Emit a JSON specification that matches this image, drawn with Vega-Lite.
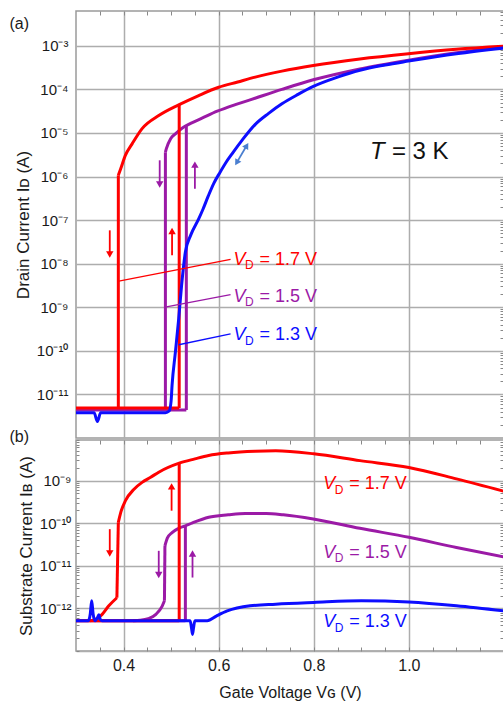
{
  "$schema": "https://vega.github.io/schema/vega-lite/v6.json",
  "padding": {"left": 8, "top": 9, "right": 0, "bottom": 3},
  "spacing": 2,
  "bounds": "flush",
  "config": {
    "font": "Liberation Sans",
    "view": {"stroke": "#9a9a9a", "strokeWidth": 1.5},
    "axis": {"gridColor": "#adadad", "gridWidth": 1.5, "tickColor": "#888888", "tickWidth": 1, "labelColor": "#1a1a1a", "titleColor": "#1a1a1a", "labelFont": "Liberation Sans", "titleFont": "Liberation Sans", "titleFontWeight": "normal", "domain": false}
  },
  "datasets": {
    "curves": [
      {"p":"a","vd":"1.5","br":"f","i":0,"vg":0.3,"cur":4.37e-12},
      {"p":"a","vd":"1.5","br":"f","i":1,"vg":0.532,"cur":4.37e-12},
      {"p":"a","vd":"1.5","br":"j1","i":0,"vg":0.532,"cur":4.37e-12},
      {"p":"a","vd":"1.5","br":"j1","i":1,"vg":0.532,"cur":1.48e-5},
      {"p":"a","vd":"1.5","br":"j2","i":0,"vg":0.488,"cur":4.37e-12},
      {"p":"a","vd":"1.5","br":"j2","i":1,"vg":0.488,"cur":3.63e-6},
      {"p":"a","vd":"1.5","br":"u","i":0,"vg":0.488,"cur":3.63e-6},
      {"p":"a","vd":"1.5","br":"u","i":1,"vg":0.49,"cur":4.37e-6},
      {"p":"a","vd":"1.5","br":"u","i":2,"vg":0.499,"cur":7.41e-6},
      {"p":"a","vd":"1.5","br":"u","i":3,"vg":0.509,"cur":9.55e-6},
      {"p":"a","vd":"1.5","br":"u","i":4,"vg":0.523,"cur":1.29e-5},
      {"p":"a","vd":"1.5","br":"u","i":5,"vg":0.532,"cur":1.48e-5},
      {"p":"a","vd":"1.5","br":"u","i":6,"vg":0.541,"cur":1.66e-5},
      {"p":"a","vd":"1.5","br":"u","i":7,"vg":0.565,"cur":2.19e-5},
      {"p":"a","vd":"1.5","br":"u","i":8,"vg":0.597,"cur":3.16e-5},
      {"p":"a","vd":"1.5","br":"u","i":9,"vg":0.635,"cur":4.47e-5},
      {"p":"a","vd":"1.5","br":"u","i":10,"vg":0.666,"cur":5.75e-5},
      {"p":"a","vd":"1.5","br":"u","i":11,"vg":0.733,"cur":1.0e-4},
      {"p":"a","vd":"1.5","br":"u","i":12,"vg":0.799,"cur":1.66e-4},
      {"p":"a","vd":"1.5","br":"u","i":13,"vg":0.897,"cur":2.95e-4},
      {"p":"a","vd":"1.5","br":"u","i":14,"vg":0.999,"cur":4.68e-4},
      {"p":"a","vd":"1.5","br":"u","i":15,"vg":1.1,"cur":6.92e-4},
      {"p":"a","vd":"1.5","br":"u","i":16,"vg":1.2,"cur":9.33e-4},
      {"p":"a","vd":"1.7","br":"f","i":0,"vg":0.3,"cur":4.9e-12},
      {"p":"a","vd":"1.7","br":"f","i":1,"vg":0.517,"cur":4.9e-12},
      {"p":"a","vd":"1.7","br":"j1","i":0,"vg":0.517,"cur":4.9e-12},
      {"p":"a","vd":"1.7","br":"j1","i":1,"vg":0.517,"cur":4.47e-5},
      {"p":"a","vd":"1.7","br":"j2","i":0,"vg":0.389,"cur":4.9e-12},
      {"p":"a","vd":"1.7","br":"j2","i":1,"vg":0.389,"cur":1.07e-6},
      {"p":"a","vd":"1.7","br":"u","i":0,"vg":0.389,"cur":1.07e-6},
      {"p":"a","vd":"1.7","br":"u","i":1,"vg":0.394,"cur":1.51e-6},
      {"p":"a","vd":"1.7","br":"u","i":2,"vg":0.404,"cur":3.09e-6},
      {"p":"a","vd":"1.7","br":"u","i":3,"vg":0.418,"cur":5.62e-6},
      {"p":"a","vd":"1.7","br":"u","i":4,"vg":0.439,"cur":1.26e-5},
      {"p":"a","vd":"1.7","br":"u","i":5,"vg":0.474,"cur":2.51e-5},
      {"p":"a","vd":"1.7","br":"u","i":6,"vg":0.517,"cur":4.47e-5},
      {"p":"a","vd":"1.7","br":"u","i":7,"vg":0.558,"cur":7.24e-5},
      {"p":"a","vd":"1.7","br":"u","i":8,"vg":0.6,"cur":1.12e-4},
      {"p":"a","vd":"1.7","br":"u","i":9,"vg":0.64,"cur":1.48e-4},
      {"p":"a","vd":"1.7","br":"u","i":10,"vg":0.677,"cur":1.91e-4},
      {"p":"a","vd":"1.7","br":"u","i":11,"vg":0.733,"cur":2.63e-4},
      {"p":"a","vd":"1.7","br":"u","i":12,"vg":0.799,"cur":3.55e-4},
      {"p":"a","vd":"1.7","br":"u","i":13,"vg":0.897,"cur":5.01e-4},
      {"p":"a","vd":"1.7","br":"u","i":14,"vg":0.999,"cur":6.61e-4},
      {"p":"a","vd":"1.7","br":"u","i":15,"vg":1.1,"cur":8.32e-4},
      {"p":"a","vd":"1.7","br":"u","i":16,"vg":1.2,"cur":9.77e-4},
      {"p":"a","vd":"1.3","br":"u","i":0,"vg":0.3,"cur":3.8e-12},
      {"p":"a","vd":"1.3","br":"u","i":1,"vg":0.338,"cur":3.8e-12},
      {"p":"a","vd":"1.3","br":"u","i":2,"vg":0.345,"cur":2.4e-12},
      {"p":"a","vd":"1.3","br":"u","i":3,"vg":0.352,"cur":3.8e-12},
      {"p":"a","vd":"1.3","br":"u","i":4,"vg":0.488,"cur":3.8e-12},
      {"p":"a","vd":"1.3","br":"u","i":5,"vg":0.496,"cur":4.17e-12},
      {"p":"a","vd":"1.3","br":"u","i":6,"vg":0.5,"cur":7.08e-12},
      {"p":"a","vd":"1.3","br":"u","i":7,"vg":0.502,"cur":1.62e-11},
      {"p":"a","vd":"1.3","br":"u","i":8,"vg":0.509,"cur":9.33e-11},
      {"p":"a","vd":"1.3","br":"u","i":9,"vg":0.516,"cur":5.5e-10},
      {"p":"a","vd":"1.3","br":"u","i":10,"vg":0.522,"cur":3.16e-9},
      {"p":"a","vd":"1.3","br":"u","i":11,"vg":0.53,"cur":1.86e-8},
      {"p":"a","vd":"1.3","br":"u","i":12,"vg":0.541,"cur":4.47e-8},
      {"p":"a","vd":"1.3","br":"u","i":13,"vg":0.558,"cur":1.07e-7},
      {"p":"a","vd":"1.3","br":"u","i":14,"vg":0.567,"cur":1.78e-7},
      {"p":"a","vd":"1.3","br":"u","i":15,"vg":0.578,"cur":3.55e-7},
      {"p":"a","vd":"1.3","br":"u","i":16,"vg":0.59,"cur":7.08e-7},
      {"p":"a","vd":"1.3","br":"u","i":17,"vg":0.603,"cur":1.26e-6},
      {"p":"a","vd":"1.3","br":"u","i":18,"vg":0.614,"cur":2.0e-6},
      {"p":"a","vd":"1.3","br":"u","i":19,"vg":0.63,"cur":3.55e-6},
      {"p":"a","vd":"1.3","br":"u","i":20,"vg":0.649,"cur":6.76e-6},
      {"p":"a","vd":"1.3","br":"u","i":21,"vg":0.677,"cur":1.58e-5},
      {"p":"a","vd":"1.3","br":"u","i":22,"vg":0.705,"cur":2.82e-5},
      {"p":"a","vd":"1.3","br":"u","i":23,"vg":0.733,"cur":4.68e-5},
      {"p":"a","vd":"1.3","br":"u","i":24,"vg":0.766,"cur":7.59e-5},
      {"p":"a","vd":"1.3","br":"u","i":25,"vg":0.799,"cur":1.17e-4},
      {"p":"a","vd":"1.3","br":"u","i":26,"vg":0.85,"cur":1.91e-4},
      {"p":"a","vd":"1.3","br":"u","i":27,"vg":0.897,"cur":2.75e-4},
      {"p":"a","vd":"1.3","br":"u","i":28,"vg":0.95,"cur":3.63e-4},
      {"p":"a","vd":"1.3","br":"u","i":29,"vg":0.999,"cur":4.47e-4},
      {"p":"a","vd":"1.3","br":"u","i":30,"vg":1.1,"cur":6.61e-4},
      {"p":"a","vd":"1.3","br":"u","i":31,"vg":1.2,"cur":8.91e-4},

      {"p":"b","vd":"1.5","br":"f","i":0,"vg":0.3,"cur":5.13e-13},
      {"p":"b","vd":"1.5","br":"f","i":1,"vg":0.53,"cur":5.13e-13},
      {"p":"b","vd":"1.5","br":"j1","i":0,"vg":0.53,"cur":5.13e-13},
      {"p":"b","vd":"1.5","br":"j1","i":1,"vg":0.53,"cur":8.71e-11},
      {"p":"b","vd":"1.5","br":"t","i":0,"vg":0.42,"cur":5.13e-13},
      {"p":"b","vd":"1.5","br":"t","i":1,"vg":0.435,"cur":5.25e-13},
      {"p":"b","vd":"1.5","br":"t","i":2,"vg":0.452,"cur":5.75e-13},
      {"p":"b","vd":"1.5","br":"t","i":3,"vg":0.468,"cur":7.24e-13},
      {"p":"b","vd":"1.5","br":"t","i":4,"vg":0.481,"cur":1.12e-12},
      {"p":"b","vd":"1.5","br":"t","i":5,"vg":0.486,"cur":1.51e-12},
      {"p":"b","vd":"1.5","br":"j2","i":0,"vg":0.486,"cur":1.51e-12},
      {"p":"b","vd":"1.5","br":"j2","i":1,"vg":0.487,"cur":2.95e-11},
      {"p":"b","vd":"1.5","br":"u","i":0,"vg":0.487,"cur":2.95e-11},
      {"p":"b","vd":"1.5","br":"u","i":1,"vg":0.492,"cur":4.47e-11},
      {"p":"b","vd":"1.5","br":"u","i":2,"vg":0.502,"cur":6.03e-11},
      {"p":"b","vd":"1.5","br":"u","i":3,"vg":0.516,"cur":7.59e-11},
      {"p":"b","vd":"1.5","br":"u","i":4,"vg":0.53,"cur":8.71e-11},
      {"p":"b","vd":"1.5","br":"u","i":5,"vg":0.545,"cur":1.02e-10},
      {"p":"b","vd":"1.5","br":"u","i":6,"vg":0.579,"cur":1.38e-10},
      {"p":"b","vd":"1.5","br":"u","i":7,"vg":0.62,"cur":1.58e-10},
      {"p":"b","vd":"1.5","br":"u","i":8,"vg":0.656,"cur":1.7e-10},
      {"p":"b","vd":"1.5","br":"u","i":9,"vg":0.7,"cur":1.7e-10},
      {"p":"b","vd":"1.5","br":"u","i":10,"vg":0.736,"cur":1.58e-10},
      {"p":"b","vd":"1.5","br":"u","i":11,"vg":0.799,"cur":1.26e-10},
      {"p":"b","vd":"1.5","br":"u","i":12,"vg":0.897,"cur":7.59e-11},
      {"p":"b","vd":"1.5","br":"u","i":13,"vg":1.0,"cur":4.68e-11},
      {"p":"b","vd":"1.5","br":"u","i":14,"vg":1.1,"cur":2.69e-11},
      {"p":"b","vd":"1.5","br":"u","i":15,"vg":1.2,"cur":1.62e-11},
      {"p":"b","vd":"1.7","br":"f","i":0,"vg":0.3,"cur":5.13e-13},
      {"p":"b","vd":"1.7","br":"f","i":1,"vg":0.517,"cur":5.13e-13},
      {"p":"b","vd":"1.7","br":"j1","i":0,"vg":0.517,"cur":5.13e-13},
      {"p":"b","vd":"1.7","br":"j1","i":1,"vg":0.517,"cur":2.57e-9},
      {"p":"b","vd":"1.7","br":"t","i":0,"vg":0.33,"cur":5.13e-13},
      {"p":"b","vd":"1.7","br":"t","i":1,"vg":0.341,"cur":5.5e-13},
      {"p":"b","vd":"1.7","br":"t","i":2,"vg":0.355,"cur":7.24e-13},
      {"p":"b","vd":"1.7","br":"t","i":3,"vg":0.369,"cur":1.15e-12},
      {"p":"b","vd":"1.7","br":"t","i":4,"vg":0.386,"cur":1.78e-12},
      {"p":"b","vd":"1.7","br":"j2","i":0,"vg":0.386,"cur":1.78e-12},
      {"p":"b","vd":"1.7","br":"j2","i":1,"vg":0.389,"cur":1.05e-10},
      {"p":"b","vd":"1.7","br":"u","i":0,"vg":0.389,"cur":1.05e-10},
      {"p":"b","vd":"1.7","br":"u","i":1,"vg":0.394,"cur":1.78e-10},
      {"p":"b","vd":"1.7","br":"u","i":2,"vg":0.404,"cur":3.39e-10},
      {"p":"b","vd":"1.7","br":"u","i":3,"vg":0.422,"cur":6.31e-10},
      {"p":"b","vd":"1.7","br":"u","i":4,"vg":0.439,"cur":9.12e-10},
      {"p":"b","vd":"1.7","br":"u","i":5,"vg":0.457,"cur":1.2e-9},
      {"p":"b","vd":"1.7","br":"u","i":6,"vg":0.474,"cur":1.58e-9},
      {"p":"b","vd":"1.7","br":"u","i":7,"vg":0.517,"cur":2.57e-9},
      {"p":"b","vd":"1.7","br":"u","i":8,"vg":0.55,"cur":3.24e-9},
      {"p":"b","vd":"1.7","br":"u","i":9,"vg":0.579,"cur":3.89e-9},
      {"p":"b","vd":"1.7","br":"u","i":10,"vg":0.62,"cur":4.47e-9},
      {"p":"b","vd":"1.7","br":"u","i":11,"vg":0.677,"cur":4.9e-9},
      {"p":"b","vd":"1.7","br":"u","i":12,"vg":0.72,"cur":5.01e-9},
      {"p":"b","vd":"1.7","br":"u","i":13,"vg":0.8,"cur":4.27e-9},
      {"p":"b","vd":"1.7","br":"u","i":14,"vg":0.897,"cur":2.95e-9},
      {"p":"b","vd":"1.7","br":"u","i":15,"vg":1.0,"cur":2.04e-9},
      {"p":"b","vd":"1.7","br":"u","i":16,"vg":1.1,"cur":1.1e-9},
      {"p":"b","vd":"1.7","br":"u","i":17,"vg":1.2,"cur":5.62e-10},
      {"p":"b","vd":"1.3","br":"u","i":0,"vg":0.3,"cur":5.13e-13},
      {"p":"b","vd":"1.3","br":"u","i":1,"vg":0.326,"cur":5.13e-13},
      {"p":"b","vd":"1.3","br":"u","i":2,"vg":0.33,"cur":7.4e-13},
      {"p":"b","vd":"1.3","br":"u","i":3,"vg":0.333,"cur":1.51e-12},
      {"p":"b","vd":"1.3","br":"u","i":4,"vg":0.336,"cur":7.4e-13},
      {"p":"b","vd":"1.3","br":"u","i":5,"vg":0.34,"cur":5.13e-13},
      {"p":"b","vd":"1.3","br":"u","i":6,"vg":0.345,"cur":6.0e-13},
      {"p":"b","vd":"1.3","br":"u","i":7,"vg":0.348,"cur":7.1e-13},
      {"p":"b","vd":"1.3","br":"u","i":8,"vg":0.351,"cur":5.5e-13},
      {"p":"b","vd":"1.3","br":"u","i":9,"vg":0.355,"cur":5.13e-13},
      {"p":"b","vd":"1.3","br":"u","i":10,"vg":0.54,"cur":5.13e-13},
      {"p":"b","vd":"1.3","br":"u","i":11,"vg":0.543,"cur":3.4e-13},
      {"p":"b","vd":"1.3","br":"u","i":12,"vg":0.545,"cur":2.45e-13},
      {"p":"b","vd":"1.3","br":"u","i":13,"vg":0.547,"cur":3.4e-13},
      {"p":"b","vd":"1.3","br":"u","i":14,"vg":0.55,"cur":5.13e-13},
      {"p":"b","vd":"1.3","br":"u","i":15,"vg":0.576,"cur":5.13e-13},
      {"p":"b","vd":"1.3","br":"u","i":16,"vg":0.595,"cur":6.6e-13},
      {"p":"b","vd":"1.3","br":"u","i":17,"vg":0.618,"cur":8.71e-13},
      {"p":"b","vd":"1.3","br":"u","i":18,"vg":0.666,"cur":1.15e-12},
      {"p":"b","vd":"1.3","br":"u","i":19,"vg":0.72,"cur":1.26e-12},
      {"p":"b","vd":"1.3","br":"u","i":20,"vg":0.8,"cur":1.38e-12},
      {"p":"b","vd":"1.3","br":"u","i":21,"vg":0.9,"cur":1.51e-12},
      {"p":"b","vd":"1.3","br":"u","i":22,"vg":1.0,"cur":1.41e-12},
      {"p":"b","vd":"1.3","br":"u","i":23,"vg":1.1,"cur":1.15e-12},
      {"p":"b","vd":"1.3","br":"u","i":24,"vg":1.2,"cur":8.71e-13}
    ],
    "leaders": [
      {"p":"a","vd":"1.7","vg":0.39,"cur":3.98e-9,"vg2":0.625,"cur2":1.26e-8},
      {"p":"a","vd":"1.5","vg":0.49,"cur":1.02e-9,"vg2":0.625,"cur2":1.95e-9},
      {"p":"a","vd":"1.3","vg":0.516,"cur":1.38e-10,"vg2":0.625,"cur2":2.45e-10}
    ],
    "labels": [
      {"p":"a","vd":"1.7","vg":0.631,"cur":1.23e-8,"rest":"= 1.7 V"},
      {"p":"a","vd":"1.5","vg":0.631,"cur":1.74e-9,"rest":"= 1.5 V"},
      {"p":"a","vd":"1.3","vg":0.631,"cur":2.29e-10,"rest":"= 1.3 V"},
      {"p":"b","vd":"1.7","vg":0.82,"cur":8.32e-10,"rest":"= 1.7 V"},
      {"p":"b","vd":"1.5","vg":0.82,"cur":2.04e-11,"rest":"= 1.5 V"},
      {"p":"b","vd":"1.3","vg":0.82,"cur":4.68e-13,"rest":"= 1.3 V"}
    ],
    "arrows": [
      {"p":"a","vd":"1.7","vg":0.371,"cur":5.83e-8,"cur2":1.63e-8,"dir":"down"},
      {"p":"a","vd":"1.7","vg":0.502,"cur":1.56e-8,"cur2":5.62e-8,"dir":"up"},
      {"p":"a","vd":"1.5","vg":0.476,"cur":2.36e-6,"cur2":6.56e-7,"dir":"down"},
      {"p":"a","vd":"1.5","vg":0.55,"cur":5.25e-7,"cur2":1.88e-6,"dir":"up"},
      {"p":"b","vd":"1.7","vg":0.371,"cur":7.26e-11,"cur2":1.95e-11,"dir":"down"},
      {"p":"b","vd":"1.7","vg":0.501,"cur":1.97e-10,"cur2":7.34e-10,"dir":"up"},
      {"p":"b","vd":"1.5","vg":0.474,"cur":2.25e-11,"cur2":6.08e-12,"dir":"down"},
      {"p":"b","vd":"1.5","vg":0.545,"cur":5.31e-12,"cur2":1.95e-11,"dir":"up"}
    ],
    "dbl": [
      {"end":"lo","i":0,"vg":0.638,"cur":2.09e-6},
      {"end":"hi","i":1,"vg":0.659,"cur":5.14e-6}
    ],
    "temp": [{"p":"a","vg":0.918,"cur":3.63e-6}],
    "tags": [
      {"p":"a","vg":0.16,"cur":3.16e-3,"t":"(a)"},
      {"p":"b","vg":0.16,"cur":1.05e-8,"t":"(b)"}
    ]
  },
  "vconcat": [
    {
      "width": 428,
      "height": 427,
      "resolve": {"axis": {"x": "independent", "y": "independent"}},
      "layer": [
        {
          "data": {"name": "curves"},
          "transform": [{"filter": "datum.p == 'a'"}],
          "mark": {"type": "line", "strokeWidth": 3, "clip": true, "strokeJoin": "round", "interpolate": "monotone"},
          "encoding": {
            "x": {"field": "vg", "type": "quantitative", "scale": {"domain": [0.3, 1.2], "nice": false, "zero": false},
                  "axis": {"orient": "bottom", "values": [0.4, 0.6, 0.8, 1.0], "labels": false, "ticks": false, "grid": true, "title": null}},
            "y": {"field": "cur", "type": "quantitative", "scale": {"type": "log", "domain": [1e-12, 6.3e-3], "nice": false},
                  "axis": {"orient": "left", "values": [1e-11, 1e-10, 1e-9, 1e-8, 1e-7, 1e-6, 1e-5, 1e-4, 1e-3], "ticks": false, "grid": true,
                           "title": "Drain Current Iᴅ (A)", "titleFontSize": 17, "labelFontSize": 15, "labelPadding": 8, "titlePadding": 4,
                           "labelExpr": "'10' + replace(replace(replace(replace(replace(replace(replace(replace(replace(replace(replace(replace(toString(round(log(datum.value)/LN10)), '-', '⁻'), '11', '¹¹'), '1', '¹'), '0', '⁰'), '2', '²'), '3', '³'), '4', '⁴'), '5', '⁵'), '6', '⁶'), '7', '⁷'), '8', '⁸'), '9', '⁹')"}},
            "color": {"field": "vd", "type": "nominal", "scale": {"domain": ["1.7", "1.5", "1.3"], "range": ["#ff0000", "#9b1aa6", "#0d0dff"]}, "legend": null},
            "detail": {"field": "br"},
            "order": {"field": "i", "type": "quantitative"}
          }
        },
        {
          "data": {"name": "arrows"},
          "transform": [{"filter": "datum.p == 'a'"}],
          "mark": {"type": "rule", "strokeWidth": 1.8},
          "encoding": {
            "x": {"field": "vg", "type": "quantitative", "scale": {"domain": [0.3, 1.2], "nice": false, "zero": false},
                  "axis": {"orient": "top", "values": [0.35, 0.4, 0.45, 0.5, 0.55, 0.6, 0.65, 0.7, 0.75, 0.8, 0.85, 0.9, 0.95, 1.0, 1.05, 1.1, 1.15], "tickSize": -4, "labels": false, "grid": false, "title": null}},
            "y": {"field": "cur", "type": "quantitative", "scale": {"type": "log", "domain": [1e-12, 6.3e-3], "nice": false},
                  "axis": {"orient": "right", "values": [2e-12,3e-12,4e-12,5e-12,6e-12,7e-12,8e-12,9e-12,2e-11,3e-11,4e-11,5e-11,6e-11,7e-11,8e-11,9e-11,2e-10,3e-10,4e-10,5e-10,6e-10,7e-10,8e-10,9e-10,2e-9,3e-9,4e-9,5e-9,6e-9,7e-9,8e-9,9e-9,2e-8,3e-8,4e-8,5e-8,6e-8,7e-8,8e-8,9e-8,2e-7,3e-7,4e-7,5e-7,6e-7,7e-7,8e-7,9e-7,2e-6,3e-6,4e-6,5e-6,6e-6,7e-6,8e-6,9e-6,2e-5,3e-5,4e-5,5e-5,6e-5,7e-5,8e-5,9e-5,2e-4,3e-4,4e-4,5e-4,6e-4,7e-4,8e-4,9e-4,2e-3,3e-3,4e-3,5e-3,6e-3], "tickSize": -4, "labels": false, "grid": false, "title": null}},
            "y2": {"field": "cur2"},
            "color": {"field": "vd", "type": "nominal", "scale": {"domain": ["1.7", "1.5", "1.3"], "range": ["#ff0000", "#9b1aa6", "#0d0dff"]}, "legend": null}
          }
        },
        {
          "data": {"name": "arrows"},
          "transform": [{"filter": "datum.p == 'a'"}],
          "mark": {"type": "point", "filled": true, "size": 55, "opacity": 1},
          "encoding": {
            "x": {"field": "vg", "type": "quantitative", "scale": {"domain": [0.3, 1.2], "nice": false, "zero": false}, "axis": null},
            "y": {"field": "cur2", "type": "quantitative", "scale": {"type": "log", "domain": [1e-12, 6.3e-3], "nice": false}, "axis": null},
            "shape": {"field": "dir", "type": "nominal", "scale": {"domain": ["down", "up"], "range": ["triangle-down", "triangle-up"]}, "legend": null},
            "color": {"field": "vd", "type": "nominal", "scale": {"domain": ["1.7", "1.5", "1.3"], "range": ["#ff0000", "#9b1aa6", "#0d0dff"]}, "legend": null}
          }
        },
        {
          "data": {"name": "leaders"},
          "transform": [{"filter": "datum.p == 'a'"}],
          "mark": {"type": "rule", "strokeWidth": 1.3},
          "encoding": {
            "x": {"field": "vg", "type": "quantitative", "scale": {"domain": [0.3, 1.2], "nice": false, "zero": false}, "axis": null},
            "y": {"field": "cur", "type": "quantitative", "scale": {"type": "log", "domain": [1e-12, 6.3e-3], "nice": false}, "axis": null},
            "x2": {"field": "vg2"},
            "y2": {"field": "cur2"},
            "color": {"field": "vd", "type": "nominal", "scale": {"domain": ["1.7", "1.5", "1.3"], "range": ["#ff0000", "#9b1aa6", "#0d0dff"]}, "legend": null}
          }
        },
        {
          "data": {"name": "labels"},
          "transform": [{"filter": "datum.p == 'a'"}],
          "mark": {"type": "text", "text": "V", "fontStyle": "italic", "fontSize": 18, "align": "left", "baseline": "middle"},
          "encoding": {
            "x": {"field": "vg", "type": "quantitative", "scale": {"domain": [0.3, 1.2], "nice": false, "zero": false}, "axis": null},
            "y": {"field": "cur", "type": "quantitative", "scale": {"type": "log", "domain": [1e-12, 6.3e-3], "nice": false}, "axis": null},
            "color": {"field": "vd", "type": "nominal", "scale": {"domain": ["1.7", "1.5", "1.3"], "range": ["#ff0000", "#9b1aa6", "#0d0dff"]}, "legend": null}
          }
        },
        {
          "data": {"name": "labels"},
          "transform": [{"filter": "datum.p == 'a'"}],
          "mark": {"type": "text", "text": "D", "fontSize": 12, "align": "left", "baseline": "middle", "dx": 11.5, "dy": 5.5},
          "encoding": {
            "x": {"field": "vg", "type": "quantitative", "scale": {"domain": [0.3, 1.2], "nice": false, "zero": false}, "axis": null},
            "y": {"field": "cur", "type": "quantitative", "scale": {"type": "log", "domain": [1e-12, 6.3e-3], "nice": false}, "axis": null},
            "color": {"field": "vd", "type": "nominal", "scale": {"domain": ["1.7", "1.5", "1.3"], "range": ["#ff0000", "#9b1aa6", "#0d0dff"]}, "legend": null}
          }
        },
        {
          "data": {"name": "labels"},
          "transform": [{"filter": "datum.p == 'a'"}],
          "mark": {"type": "text", "fontSize": 18, "align": "left", "baseline": "middle", "dx": 26},
          "encoding": {
            "x": {"field": "vg", "type": "quantitative", "scale": {"domain": [0.3, 1.2], "nice": false, "zero": false}, "axis": null},
            "y": {"field": "cur", "type": "quantitative", "scale": {"type": "log", "domain": [1e-12, 6.3e-3], "nice": false}, "axis": null},
            "text": {"field": "rest"},
            "color": {"field": "vd", "type": "nominal", "scale": {"domain": ["1.7", "1.5", "1.3"], "range": ["#ff0000", "#9b1aa6", "#0d0dff"]}, "legend": null}
          }
        },
        {
          "data": {"name": "temp"},
          "mark": {"type": "text", "text": "T", "fontStyle": "italic", "fontSize": 24, "align": "left", "baseline": "middle", "color": "#111111"},
          "encoding": {
            "x": {"field": "vg", "type": "quantitative", "scale": {"domain": [0.3, 1.2], "nice": false, "zero": false}, "axis": null},
            "y": {"field": "cur", "type": "quantitative", "scale": {"type": "log", "domain": [1e-12, 6.3e-3], "nice": false}, "axis": null}
          }
        },
        {
          "data": {"name": "temp"},
          "mark": {"type": "text", "text": "= 3 K", "fontSize": 24, "align": "left", "baseline": "middle", "dx": 22, "color": "#111111"},
          "encoding": {
            "x": {"field": "vg", "type": "quantitative", "scale": {"domain": [0.3, 1.2], "nice": false, "zero": false}, "axis": null},
            "y": {"field": "cur", "type": "quantitative", "scale": {"type": "log", "domain": [1e-12, 6.3e-3], "nice": false}, "axis": null}
          }
        },
        {
          "data": {"name": "dbl"},
          "mark": {"type": "line", "strokeWidth": 1.8, "color": "#4a7fd0"},
          "encoding": {
            "x": {"field": "vg", "type": "quantitative", "scale": {"domain": [0.3, 1.2], "nice": false, "zero": false}, "axis": null},
            "y": {"field": "cur", "type": "quantitative", "scale": {"type": "log", "domain": [1e-12, 6.3e-3], "nice": false}, "axis": null},
            "order": {"field": "i", "type": "quantitative"}
          }
        },
        {
          "data": {"name": "dbl"},
          "mark": {"type": "point", "filled": true, "size": 50, "opacity": 1, "angle": 31, "color": "#4a7fd0"},
          "encoding": {
            "x": {"field": "vg", "type": "quantitative", "scale": {"domain": [0.3, 1.2], "nice": false, "zero": false}, "axis": null},
            "y": {"field": "cur", "type": "quantitative", "scale": {"type": "log", "domain": [1e-12, 6.3e-3], "nice": false}, "axis": null},
            "shape": {"field": "end", "type": "nominal", "scale": {"domain": ["lo", "hi"], "range": ["triangle-down", "triangle-up"]}, "legend": null}
          }
        },
        {
          "data": {"name": "tags"},
          "transform": [{"filter": "datum.p == 'a'"}],
          "mark": {"type": "text", "fontSize": 16, "align": "left", "baseline": "middle", "color": "#1a1a1a"},
          "encoding": {
            "x": {"field": "vg", "type": "quantitative", "scale": {"domain": [0.3, 1.2], "nice": false, "zero": false}, "axis": null},
            "y": {"field": "cur", "type": "quantitative", "scale": {"type": "log", "domain": [1e-12, 6.3e-3], "nice": false}, "axis": null},
            "text": {"field": "t"}
          }
        }
      ]
    },
    {
      "width": 428,
      "height": 211,
      "resolve": {"axis": {"x": "independent", "y": "independent"}},
      "layer": [
        {
          "data": {"name": "curves"},
          "transform": [{"filter": "datum.p == 'b'"}],
          "mark": {"type": "line", "strokeWidth": 3, "clip": true, "strokeJoin": "round", "interpolate": "monotone"},
          "encoding": {
            "x": {"field": "vg", "type": "quantitative", "scale": {"domain": [0.3, 1.2], "nice": false, "zero": false},
                  "axis": {"orient": "bottom", "values": [0.35, 0.4, 0.45, 0.5, 0.55, 0.6, 0.65, 0.7, 0.75, 0.8, 0.85, 0.9, 0.95, 1.0, 1.05, 1.1, 1.15], "tickSize": -4, "grid": true,
                           "gridOpacity": {"condition": {"test": "abs(datum.value*5 - round(datum.value*5)) < 0.01", "value": 1}, "value": 0},
                           "labelExpr": "abs(datum.value*5 - round(datum.value*5)) < 0.01 && datum.value < 1.15 ? format(datum.value, '.1f') : ''",
                           "labelFontSize": 16, "labelPadding": 10, "title": "Gate Voltage Vɢ (V)", "titleFontSize": 16, "titlePadding": 11}},
            "y": {"field": "cur", "type": "quantitative", "scale": {"type": "log", "domain": [1e-13, 9e-9], "nice": false},
                  "axis": {"orient": "left", "values": [1e-13,2e-13,3e-13,4e-13,5e-13,6e-13,7e-13,8e-13,9e-13,1e-12,2e-12,3e-12,4e-12,5e-12,6e-12,7e-12,8e-12,9e-12,1e-11,2e-11,3e-11,4e-11,5e-11,6e-11,7e-11,8e-11,9e-11,1e-10,2e-10,3e-10,4e-10,5e-10,6e-10,7e-10,8e-10,9e-10,1e-9,2e-9,3e-9,4e-9,5e-9,6e-9,7e-9,8e-9,9e-9],
                           "tickSize": -3, "grid": true,
                           "gridOpacity": {"condition": {"test": "abs(log(datum.value)/LN10 - round(log(datum.value)/LN10)) < 0.01", "value": 1}, "value": 0},
                           "title": "Substrate Current Iʙ (A)", "titleFontSize": 17, "labelFontSize": 15, "labelPadding": 8, "titlePadding": 4,
                           "labelExpr": "abs(log(datum.value)/LN10 - round(log(datum.value)/LN10)) < 0.01 && datum.value > 5e-13 ? '10' + replace(replace(replace(replace(replace(replace(replace(replace(replace(replace(replace(replace(toString(round(log(datum.value)/LN10)), '-', '⁻'), '11', '¹¹'), '1', '¹'), '0', '⁰'), '2', '²'), '3', '³'), '4', '⁴'), '5', '⁵'), '6', '⁶'), '7', '⁷'), '8', '⁸'), '9', '⁹') : ''"}},
            "color": {"field": "vd", "type": "nominal", "scale": {"domain": ["1.7", "1.5", "1.3"], "range": ["#ff0000", "#9b1aa6", "#0d0dff"]}, "legend": null},
            "detail": {"field": "br"},
            "order": {"field": "i", "type": "quantitative"}
          }
        },
        {
          "data": {"name": "arrows"},
          "transform": [{"filter": "datum.p == 'b'"}],
          "mark": {"type": "rule", "strokeWidth": 1.8},
          "encoding": {
            "x": {"field": "vg", "type": "quantitative", "scale": {"domain": [0.3, 1.2], "nice": false, "zero": false},
                  "axis": {"orient": "top", "values": [0.35, 0.4, 0.45, 0.5, 0.55, 0.6, 0.65, 0.7, 0.75, 0.8, 0.85, 0.9, 0.95, 1.0, 1.05, 1.1, 1.15], "tickSize": -4, "labels": false, "grid": false, "title": null}},
            "y": {"field": "cur", "type": "quantitative", "scale": {"type": "log", "domain": [1e-13, 9e-9], "nice": false},
                  "axis": {"orient": "right", "values": [2e-13,3e-13,4e-13,5e-13,6e-13,7e-13,8e-13,9e-13,2e-12,3e-12,4e-12,5e-12,6e-12,7e-12,8e-12,9e-12,2e-11,3e-11,4e-11,5e-11,6e-11,7e-11,8e-11,9e-11,2e-10,3e-10,4e-10,5e-10,6e-10,7e-10,8e-10,9e-10,2e-9,3e-9,4e-9,5e-9,6e-9,7e-9,8e-9], "tickSize": -4, "labels": false, "grid": false, "title": null}},
            "y2": {"field": "cur2"},
            "color": {"field": "vd", "type": "nominal", "scale": {"domain": ["1.7", "1.5", "1.3"], "range": ["#ff0000", "#9b1aa6", "#0d0dff"]}, "legend": null}
          }
        },
        {
          "data": {"name": "arrows"},
          "transform": [{"filter": "datum.p == 'b'"}],
          "mark": {"type": "point", "filled": true, "size": 55, "opacity": 1},
          "encoding": {
            "x": {"field": "vg", "type": "quantitative", "scale": {"domain": [0.3, 1.2], "nice": false, "zero": false}, "axis": null},
            "y": {"field": "cur2", "type": "quantitative", "scale": {"type": "log", "domain": [1e-13, 9e-9], "nice": false}, "axis": null},
            "shape": {"field": "dir", "type": "nominal", "scale": {"domain": ["down", "up"], "range": ["triangle-down", "triangle-up"]}, "legend": null},
            "color": {"field": "vd", "type": "nominal", "scale": {"domain": ["1.7", "1.5", "1.3"], "range": ["#ff0000", "#9b1aa6", "#0d0dff"]}, "legend": null}
          }
        },
        {
          "data": {"name": "labels"},
          "transform": [{"filter": "datum.p == 'b'"}],
          "mark": {"type": "text", "text": "V", "fontStyle": "italic", "fontSize": 18, "align": "left", "baseline": "middle"},
          "encoding": {
            "x": {"field": "vg", "type": "quantitative", "scale": {"domain": [0.3, 1.2], "nice": false, "zero": false}, "axis": null},
            "y": {"field": "cur", "type": "quantitative", "scale": {"type": "log", "domain": [1e-13, 9e-9], "nice": false}, "axis": null},
            "color": {"field": "vd", "type": "nominal", "scale": {"domain": ["1.7", "1.5", "1.3"], "range": ["#ff0000", "#9b1aa6", "#0d0dff"]}, "legend": null}
          }
        },
        {
          "data": {"name": "labels"},
          "transform": [{"filter": "datum.p == 'b'"}],
          "mark": {"type": "text", "text": "D", "fontSize": 12, "align": "left", "baseline": "middle", "dx": 11.5, "dy": 5.5},
          "encoding": {
            "x": {"field": "vg", "type": "quantitative", "scale": {"domain": [0.3, 1.2], "nice": false, "zero": false}, "axis": null},
            "y": {"field": "cur", "type": "quantitative", "scale": {"type": "log", "domain": [1e-13, 9e-9], "nice": false}, "axis": null},
            "color": {"field": "vd", "type": "nominal", "scale": {"domain": ["1.7", "1.5", "1.3"], "range": ["#ff0000", "#9b1aa6", "#0d0dff"]}, "legend": null}
          }
        },
        {
          "data": {"name": "labels"},
          "transform": [{"filter": "datum.p == 'b'"}],
          "mark": {"type": "text", "fontSize": 18, "align": "left", "baseline": "middle", "dx": 26},
          "encoding": {
            "x": {"field": "vg", "type": "quantitative", "scale": {"domain": [0.3, 1.2], "nice": false, "zero": false}, "axis": null},
            "y": {"field": "cur", "type": "quantitative", "scale": {"type": "log", "domain": [1e-13, 9e-9], "nice": false}, "axis": null},
            "text": {"field": "rest"},
            "color": {"field": "vd", "type": "nominal", "scale": {"domain": ["1.7", "1.5", "1.3"], "range": ["#ff0000", "#9b1aa6", "#0d0dff"]}, "legend": null}
          }
        },
        {
          "data": {"name": "tags"},
          "transform": [{"filter": "datum.p == 'b'"}],
          "mark": {"type": "text", "fontSize": 16, "align": "left", "baseline": "middle", "color": "#1a1a1a"},
          "encoding": {
            "x": {"field": "vg", "type": "quantitative", "scale": {"domain": [0.3, 1.2], "nice": false, "zero": false}, "axis": null},
            "y": {"field": "cur", "type": "quantitative", "scale": {"type": "log", "domain": [1e-13, 9e-9], "nice": false}, "axis": null},
            "text": {"field": "t"}
          }
        }
      ]
    }
  ]
}
